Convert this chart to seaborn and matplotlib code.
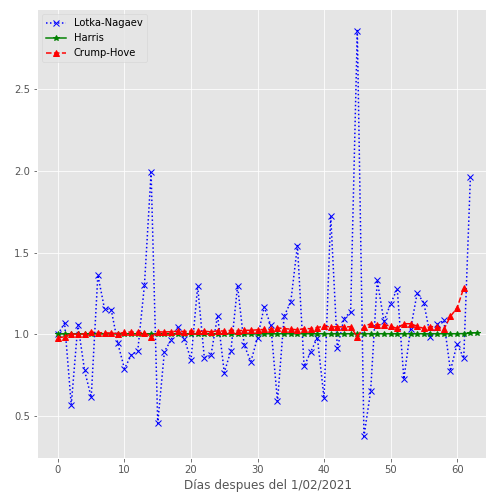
import matplotlib
matplotlib.use("Agg")
import matplotlib.pyplot as plt
import seaborn as sns
import numpy as np

dias_lotka = list(range(0, 63))
lotka_nagaev = [1.00, 1.07, 0.57, 1.06, 0.78, 0.615, 1.363, 1.156, 1.152, 0.945,
                0.79, 0.872, 0.90, 1.30, 1.99, 0.457, 0.895, 0.965, 1.044, 0.974,
                0.844, 1.294, 0.858, 0.872, 1.115, 0.767, 0.90, 1.298, 0.933, 0.834,
                0.98, 1.168, 1.055, 0.59, 1.111, 1.199, 1.543, 0.804, 0.893, 0.98,
                0.609, 1.725, 0.915, 1.097, 1.138, 2.857, 0.376, 0.652, 1.33, 1.081,
                1.186, 1.279, 0.727, 1.03, 1.253, 1.193, 0.984, 1.061, 1.085, 0.777,
                0.943, 0.854, 1.962]

dias_harris = list(range(0, 64))
harris = [1.003, 1.003, 1.003, 1.003, 1.003, 1.003, 1.003, 1.003, 1.003, 1.003,
          1.003, 1.003, 1.003, 1.003, 1.003, 1.003, 1.003, 1.003, 1.003, 1.003,
          1.003, 1.003, 1.003, 1.003, 1.003, 1.003, 1.003, 1.003, 1.003, 1.003,
          1.003, 1.004, 1.004, 1.004, 1.004, 1.004, 1.004, 1.004, 1.004, 1.004,
          1.004, 1.004, 1.004, 1.004, 1.004, 1.004, 1.004, 1.004, 1.004, 1.004,
          1.004, 1.004, 1.004, 1.004, 1.004, 1.004, 1.004, 1.004, 1.004, 1.004,
          1.004, 1.005, 1.008, 1.010]

dias_crump = list(range(0, 62))
crump_hove = [0.98, 0.985, 1.004, 1.0, 1.004, 1.014, 1.01, 1.01, 1.008, 1.005,
              1.012, 1.015, 1.012, 1.01, 0.985, 1.015, 1.015, 1.016, 1.02, 1.017,
              1.02, 1.018, 1.02, 1.015, 1.022, 1.02, 1.025, 1.022, 1.025, 1.025,
              1.028, 1.03, 1.03, 1.04, 1.035, 1.032, 1.028, 1.035, 1.035, 1.042,
              1.05, 1.045, 1.047, 1.045, 1.047, 0.985, 1.047, 1.065, 1.058, 1.06,
              1.05, 1.036, 1.065, 1.065, 1.05, 1.036, 1.047, 1.047, 1.03, 1.11,
              1.162, 1.283]

plt.style.use("ggplot")
W, H, DPI = 486, 493, 72
fig = plt.figure(figsize=(W / DPI, H / DPI), dpi=DPI)
left, right, top, bottom = 37, 498, 9, 458
ax = fig.add_axes([left / W, (H - bottom) / H, (right - left) / W, (bottom - top) / H])

sns.lineplot(x=dias_lotka, y=lotka_nagaev, ax=ax, color="blue", linestyle=":",
             marker="x", markersize=6, mec="blue", mew=1.0, label="Lotka-Nagaev")
sns.lineplot(x=dias_harris, y=harris, ax=ax, color="green", linestyle="-",
             marker="*", markersize=6, mec="green", mew=1.0, label="Harris")
sns.lineplot(x=dias_crump, y=crump_hove, ax=ax, color="red", linestyle="--",
             marker="^", markersize=6, mec="red", mew=1.0, label="Crump-Hove")

ax.set_xlim(-3.15, 66.15)
ax.set_ylim(0.2445, 2.9885)
ax.set_xticks([0, 10, 20, 30, 40, 50, 60])
ax.set_yticks([0.5, 1.0, 1.5, 2.0, 2.5])
ax.set_xlabel("Días despues del 1/02/2021", fontsize=12, color="#555555")
ax.tick_params(labelsize=10)
ax.legend(loc="upper left", fontsize=10)

fig.savefig("out.png", dpi=DPI)
